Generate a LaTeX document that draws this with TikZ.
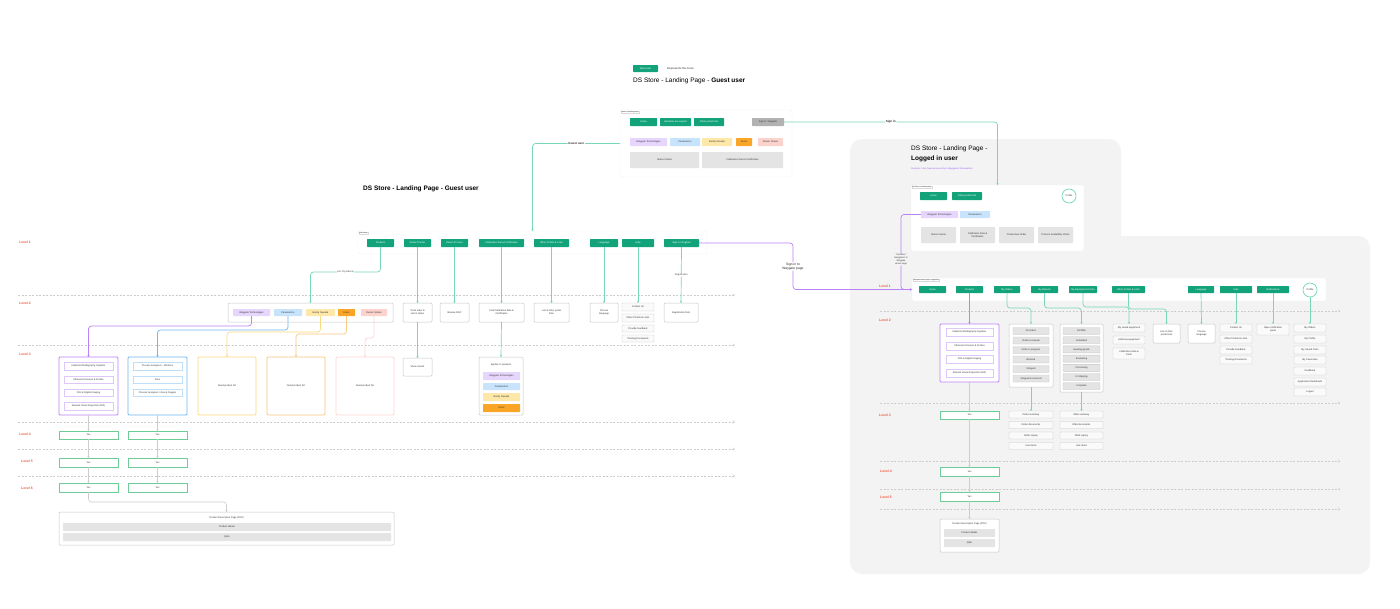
\documentclass[tikz,border=0pt]{standalone}
\usepackage{fontspec}
\setmainfont{Liberation Sans}
\usetikzlibrary{arrows.meta}
\definecolor{grn}{RGB}{18,163,122}
\definecolor{tealln}{RGB}{120,214,186}
\definecolor{purln}{RGB}{186,130,245}
\definecolor{lavf}{RGB}{230,213,252}
\definecolor{lavb}{RGB}{222,200,250}
\definecolor{bluf}{RGB}{200,228,253}
\definecolor{bluln}{RGB}{110,185,245}
\definecolor{blub}{RGB}{190,222,250}
\definecolor{yelf}{RGB}{253,232,170}
\definecolor{yelln}{RGB}{252,218,130}
\definecolor{orgf}{RGB}{249,166,40}
\definecolor{orgln}{RGB}{249,200,130}
\definecolor{pnkf}{RGB}{252,210,205}
\definecolor{pnkln}{RGB}{251,215,210}
\definecolor{bxln}{RGB}{200,200,200}
\definecolor{gryf}{RGB}{228,228,228}
\definecolor{lvlc}{RGB}{240,90,60}
\definecolor{yesln}{RGB}{110,205,150}
\definecolor{bgc}{RGB}{243,243,243}
\definecolor{connc}{RGB}{205,205,205}
\definecolor{dashc}{RGB}{205,205,205}
\definecolor{signg}{RGB}{178,178,178}
\definecolor{scen}{RGB}{150,90,240}
\newcommand\mybx[7]{\node[#2,minimum width={(#5)-(#3)},minimum height={(#6)-(#4)}] (#1) at ({((#3)+(#5))/2},{((#4)+(#6))/2}) {#7};}
\tikzset{
 base/.style={inner sep=0pt, outer sep=0pt, align=center, font=\fontsize{2.4}{2.9}\selectfont, text=black!80},
 gbtn/.style={base, fill=grn, text=white, rounded corners=0.6pt},
 sgray/.style={base, fill=signg, text=black!80, rounded corners=0.6pt},
 wbox/.style={base, draw=bxln, line width=0.5pt, fill=white, rounded corners=1pt},
 gfill/.style={base, fill=gryf, rounded corners=0.6pt},
 gitem/.style={base, fill=gryf, draw=bxln, line width=0.4pt, rounded corners=0.6pt},
 witem/.style={base, draw=bxln, line width=0.4pt, fill=black!2, rounded corners=0.6pt},
 lav/.style={base, fill=lavf, rounded corners=0.6pt},
 blu/.style={base, fill=bluf, rounded corners=0.6pt},
 yel/.style={base, fill=yelf, rounded corners=0.6pt},
 org/.style={base, fill=orgf, rounded corners=0.6pt},
 pnk/.style={base, fill=pnkf, rounded corners=0.6pt},
 lavitem/.style={base, draw=lavb, line width=0.5pt, fill=white},
 bluitem/.style={base, draw=blub, line width=0.5pt, fill=white},
 purbox/.style={base, draw=purln, line width=0.8pt, fill=white, rounded corners=1pt},
 blubox/.style={base, draw=bluln, line width=0.8pt, fill=white, rounded corners=1pt},
 yelbox/.style={base, draw=yelln, line width=0.8pt, fill=white, rounded corners=1pt},
 orgbox/.style={base, draw=orgln, line width=0.8pt, fill=white, rounded corners=1pt},
 pnkbox/.style={base, draw=pnkln, line width=0.8pt, fill=white, rounded corners=1pt},
 frame/.style={base, fill=white, draw=black!5, line width=0.4pt, rounded corners=1.5pt},
 flabel/.style={font=\fontsize{1.8}{2}\selectfont, text=black!60, draw=black!15, line width=0.2pt, fill=white, inner sep=0.4pt, anchor=north west},
 yes/.style={base, draw=yesln, line width=0.8pt, fill=white},
 prof/.style={base, circle, draw=tealln, line width=0.7pt, fill=white, minimum size=14pt},
 lvl/.style={font=\bfseries\fontsize{3.4}{4}\selectfont, text=lvlc, anchor=west, inner sep=0pt},
 lbl/.style={fill=white, inner sep=0.8pt, font=\bfseries\fontsize{3}{3.6}\selectfont, text=black!80, align=center},
 slbl/.style={fill=white, inner sep=0.6pt, font=\fontsize{2.4}{2.9}\selectfont, text=black!75, align=center},
 tl/.style={draw=tealln, line width=0.7pt, rounded corners=3pt, -{Stealth[length=2pt,width=2.2pt]}},
 pl/.style={draw=purln, line width=0.7pt, rounded corners=3pt, -{Stealth[length=2pt,width=2.2pt]}},
 bll/.style={draw=bluln, line width=0.7pt, rounded corners=3pt, -{Stealth[length=2pt,width=2.2pt]}},
 yll/.style={draw=yelln, line width=0.7pt, rounded corners=3pt, -{Stealth[length=2pt,width=2.2pt]}},
 orl/.style={draw=orgln, line width=0.7pt, rounded corners=3pt, -{Stealth[length=2pt,width=2.2pt]}},
 pkl/.style={draw=pnkln, line width=0.7pt, rounded corners=3pt, -{Stealth[length=2pt,width=2.2pt]}},
 gl/.style={draw=connc, line width=0.6pt, rounded corners=3pt, -{Stealth[length=2pt,width=2.2pt]}},
 dl/.style={draw=dashc, line width=0.5pt, dash pattern=on 2pt off 1.5pt, -{Straight Barb[length=1.5pt,width=2.6pt]}}
}
\begin{document}
\begin{tikzpicture}[x=1pt,y=-1pt]
\useasboundingbox[fill=white] (0,0) rectangle (1400,608);

% ---------- right grey area
\fill[bgc, rounded corners=12pt] (850,139) rectangle (1121,300);
\fill[bgc, rounded corners=12pt] (850,236) rectangle (1370,574);

% ---------- dashed level lines
\foreach \yy in {295,345,422,449,476} \draw[dl] (18,\yy) -- (735,\yy);
\foreach \yy in {311,403,461,489,509} \draw[dl] (880,\yy) -- (1340,\yy);

% ---------- legend and titles
\mybx{leg}{gbtn}{633}{65}{658}{72}{Menu item}
\node[anchor=west, inner sep=0pt, font=\fontsize{2.8}{3}\selectfont, text=black!80] (legt) at (667,68.5) {Represents the menu};
\node[anchor=west, inner sep=0pt, font=\fontsize{6.5}{7}\selectfont] (t1) at (633,80.5) {DS Store - Landing Page - \textbf{Guest user}};
\node[anchor=west, inner sep=0pt, font=\bfseries\fontsize{6.5}{7}\selectfont] (t2) at (363,189) {DS Store - Landing Page - Guest user};

% ---------- top frame (guest landing)
\mybx{tf}{frame}{620}{110}{792}{177}{}
\node[flabel] (tfl) at (620.5,110.5) {Home - Landing page};
\mybx{th}{gbtn}{630}{118}{657}{126}{Home}
\mybx{tind}{gbtn}{660}{118}{691}{126}{Industries we support}
\mybx{top}{gbtn}{694}{118}{724}{126}{Other portals link}
\mybx{tsign}{sgray}{752}{118}{784}{126}{Sign in / Register}
\mybx{twt}{lav}{630}{138}{667}{146}{Waygate Technologies}
\mybx{tpa}{blu}{670}{138}{700}{146}{Panametrics}
\mybx{tbn}{yel}{702}{138}{732}{146}{Bently Nevada}
\mybx{tdr}{org}{736}{138}{752}{146}{Druck}
\mybx{trs}{pnk}{758}{138}{783}{146}{Reuter Stokes}
\mybx{tst}{gfill}{630}{152}{699}{168}{Status tracker}
\mybx{tcal}{gfill}{702}{152}{783}{168}{Calibration Data \& Certificates}

% ---------- left level 1 frame
\mybx{mf}{frame}{358}{231}{707}{254}{}
\node[flabel] (mfl) at (358.5,231.5) {Main page};
\mybx{mprod}{gbtn}{367}{239}{394}{247}{Products}
\mybx{mstat}{gbtn}{404}{239}{431}{247}{Status Tracker}
\mybx{mret}{gbtn}{441}{239}{468}{247}{Return Process}
\mybx{mcal}{gbtn}{479}{239}{524}{247}{Calibration Data \& Certificates}
\mybx{moth}{gbtn}{534}{239}{569}{247}{Other Portals \& Links}
\mybx{mlang}{gbtn}{590}{239}{618}{247}{Language}
\mybx{mhelp}{gbtn}{622}{239}{654}{247}{Help}
\mybx{msign}{gbtn}{664}{239}{699}{247}{Sign in / Register}

% ---------- left level labels
\node[lvl] (l1) at (19,242) {Level 1};
\node[lvl] (l2) at (19,303) {Level 2};
\node[lvl] (l3) at (19,354) {Level 3};
\node[lvl] (l4) at (19,434) {Level 4};
\node[lvl] (l5) at (21,461) {Level 5};
\node[lvl] (l6) at (21,488) {Level 6};

% ---------- left level 2
\mybx{pf}{wbox}{228}{303}{393}{322}{}
\mybx{pwt}{lav}{233}{309}{270}{316}{Waygate Technologies}
\mybx{ppa}{blu}{274}{309}{302}{316}{Panametrics}
\mybx{pbn}{yel}{306}{309}{335}{316}{Bently Nevada}
\mybx{pdr}{org}{338}{309}{355}{316}{Druck}
\mybx{prs}{pnk}{361}{309}{387}{316}{Reuter Stokes}
\mybx{ltrack}{wbox}{403}{303}{432}{322}{Track order \&\\return status}
\mybx{lrgp}{wbox}{440}{303}{469}{322}{Browse RGP}
\mybx{lfind}{wbox}{479}{303}{524}{322}{Find Calibration data \&\\Certificates}
\mybx{lport}{wbox}{534}{303}{569}{322}{List of other portal\\links}
\mybx{llang}{wbox}{590}{303}{618}{322}{Choose\\language}
\mybx{lh1}{witem}{622}{303}{654}{311}{Contact Us}
\mybx{lh2}{witem}{622}{314}{654}{322}{Other Portals \& Links}
\mybx{lh3}{witem}{622}{325}{654}{332}{Provide Feedback}
\mybx{lh4}{witem}{622}{335}{654}{342}{Training Documents}
\mybx{lreg}{wbox}{664}{303}{698}{322}{Registration form}

% ---------- left level 3
\mybx{cwt}{purbox}{59}{357}{118}{415}{}
\mybx{cwt1}{lavitem}{64}{362}{113}{370}{Industrial Radiography Systems}
\mybx{cwt2}{lavitem}{64}{376}{113}{383}{Ultrasonic Devices \& Probes}
\mybx{cwt3}{lavitem}{64}{389}{113}{396}{Film \& Digital Imaging}
\mybx{cwt4}{lavitem}{64}{402}{113}{410}{Remote Visual Inspection (RVI)}
\mybx{cpa}{blubox}{128}{357}{187}{415}{}
\mybx{cpa1}{bluitem}{133}{362}{182}{370}{Process Analyzers - Moisture}
\mybx{cpa2}{bluitem}{133}{376}{182}{383}{Flow}
\mybx{cpa3}{bluitem}{133}{389}{182}{396}{Process Analyzers / Gas \& Oxygen}
\mybx{cbn}{yelbox}{198}{357}{256}{415}{Need product list}
\mybx{cdr}{orgbox}{267}{357}{325}{415}{Need product list}
\mybx{crs}{pnkbox}{336}{357}{394}{415}{Need product list}
\mybx{lshow}{wbox}{403}{358}{432}{376}{Show results}
\mybx{lapp}{wbox}{479}{357}{523}{415}{}
\node[base] (lappt) at (501,365) {Applies to products};
\mybx{la1}{lav}{483}{372}{520}{380}{Waygate Technologies}
\mybx{la2}{blu}{483}{383}{520}{390}{Panametrics}
\mybx{la3}{yel}{483}{393}{520}{401}{Bently Nevada}
\mybx{la4}{org}{483}{404}{520}{412}{Druck}

% ---------- left levels 4-6 and PDP
\mybx{y4a}{yes}{59}{431}{118}{439}{Yes}
\mybx{y4b}{yes}{128}{431}{187}{439}{Yes}
\mybx{y5a}{yes}{59}{458}{118}{467}{Yes}
\mybx{y5b}{yes}{128}{458}{187}{467}{Yes}
\mybx{y6a}{yes}{59}{483}{118}{492}{Yes}
\mybx{y6b}{yes}{128}{483}{187}{492}{Yes}
\mybx{pdp}{wbox}{59}{512}{394}{545}{}
\node[base] (pdpt) at (226.5,518) {Product Description Page (PDP)};
\mybx{pdp1}{gfill}{63}{523}{391}{531}{Product details}
\mybx{pdp2}{gfill}{63}{533}{391}{541}{Q\&A}

% ---------- right titles
\node[anchor=west, inner sep=0pt, font=\fontsize{6.5}{7}\selectfont] (t3) at (911,149) {DS Store - Landing Page -};
\node[anchor=west, inner sep=0pt, font=\bfseries\fontsize{6.5}{7}\selectfont] (t4) at (911,159) {Logged in user};
\node[anchor=west, inner sep=0pt, font=\fontsize{2.3}{2.8}\selectfont, text=scen] (t5) at (911,169) {Scenario: User have access only to Waygate \& Panametrics};

% ---------- right top frame
\mybx{rtf}{frame}{911}{185}{1084}{251}{}
\node[flabel] (rtfl) at (911.5,185.5) {DS Store - landing page};
\mybx{rh}{gbtn}{920}{192}{947}{200}{Home}
\mybx{rop}{gbtn}{952}{192}{982}{200}{Other portals link}
\node[prof] (rpf) at (1069,196) {Profile};
\mybx{rwt}{lav}{921}{211}{958}{218}{Waygate Technologies}
\mybx{rpa}{blu}{960}{211}{990}{218}{Panametrics}
\mybx{rst}{gfill}{921}{227}{956}{243}{Status tracker}
\mybx{rcal}{gfill}{960}{227}{995}{243}{Calibration Data \&\\Certificates}
\mybx{rnew}{gfill}{999}{227}{1034}{243}{Create New Order}
\mybx{rpac}{gfill}{1038}{227}{1073}{243}{Process Availability Check}

% ---------- right level 1 frame
\mybx{rf1}{frame}{912}{278}{1326}{301}{}
\node[flabel] (rf1l) at (912.5,278.5) {Waygate home page - Logged in};
\mybx{r1home}{gbtn}{919}{286}{946}{293}{Home}
\mybx{r1prod}{gbtn}{956}{286}{983}{293}{Products}
\mybx{r1ord}{gbtn}{994}{286}{1020}{293}{My Orders}
\mybx{r1ret}{gbtn}{1031}{286}{1058}{293}{My Returns}
\mybx{r1eq}{gbtn}{1069}{286}{1097}{293}{My Equipment \& Data}
\mybx{r1oth}{gbtn}{1112}{286}{1145}{293}{Other Portals \& Links}
\mybx{r1lang}{gbtn}{1188}{286}{1214}{293}{Language}
\mybx{r1help}{gbtn}{1220}{286}{1252}{293}{Help}
\mybx{r1not}{gbtn}{1257}{286}{1289}{293}{Notifications}
\node[prof] (rprof) at (1310,290) {Profile};

% ---------- right level labels
\node[lvl] (rl1) at (879,286) {Level 1};
\node[lvl] (rl2) at (879,320) {Level 2};
\node[lvl] (rl3) at (879,415) {Level 3};
\node[lvl] (rl4) at (880,471) {Level 4};
\node[lvl] (rl5) at (880,497) {Level 5};

% ---------- right level 2
\mybx{rp}{purbox}{940}{324}{999}{382}{}
\mybx{rp1}{lavitem}{946}{328}{993}{336}{Industrial Radiography Systems}
\mybx{rp2}{lavitem}{946}{342}{993}{350}{Ultrasonic Devices \& Probes}
\mybx{rp3}{lavitem}{946}{355}{993}{363}{Film \& Digital Imaging}
\mybx{rp4}{lavitem}{946}{369}{993}{377}{Remote Visual Inspection (RVI)}
\mybx{rord}{wbox}{1009}{324}{1053}{387}{}
\mybx{ro1}{gitem}{1013}{327.5}{1049}{334.5}{All orders}
\mybx{ro2}{gitem}{1013}{337}{1049}{344}{Orders received}
\mybx{ro3}{gitem}{1013}{346.5}{1049}{353.5}{Order in progress}
\mybx{ro4}{gitem}{1013}{356}{1049}{363}{Blocked}
\mybx{ro5}{gitem}{1013}{365.5}{1049}{372.5}{Shipped}
\mybx{ro6}{gitem}{1013}{375}{1049}{382}{Shipped \& Invoiced}
\mybx{rret}{wbox}{1060}{324}{1103}{392}{}
\mybx{rr1}{gitem}{1063}{327.5}{1100}{334.5}{All RMA}
\mybx{rr2}{gitem}{1063}{336.7}{1100}{343.7}{Submitted}
\mybx{rr3}{gitem}{1063}{345.9}{1100}{352.9}{Awaiting goods}
\mybx{rr4}{gitem}{1063}{355.1}{1100}{362.1}{Evaluating}
\mybx{rr5}{gitem}{1063}{364.3}{1100}{371.3}{Processing}
\mybx{rr6}{gitem}{1063}{373.5}{1100}{380.5}{In Shipping}
\mybx{rr7}{gitem}{1063}{382.7}{1100}{389.7}{Complete}
\mybx{req1}{witem}{1113}{324}{1145}{332}{My saved equipment}
\mybx{req2}{witem}{1113}{336}{1145}{344}{Add new equipment}
\mybx{req3}{witem}{1113}{348}{1145}{359}{Calibration Data \&\\Certs}
\mybx{rport}{wbox}{1153}{324}{1180}{343}{List of other\\portal links}
\mybx{rlang}{wbox}{1188}{324}{1215}{343}{Choose\\language}
\mybx{rh1}{witem}{1220}{324}{1252}{332}{Contact Us}
\mybx{rh2}{witem}{1220}{335}{1252}{343}{Other Portals \& Links}
\mybx{rh3}{witem}{1220}{346}{1252}{354}{Provide Feedback}
\mybx{rh4}{witem}{1220}{356}{1252}{364}{Training Documents}
\mybx{rnot}{witem}{1257}{324}{1289}{335}{Open notification\\panel}
\mybx{rpr1}{witem}{1294}{324}{1326}{332}{My Orders}
\mybx{rpr2}{witem}{1294}{335}{1326}{343}{My Profile}
\mybx{rpr3}{witem}{1294}{346}{1326}{354}{My Saved Carts}
\mybx{rpr4}{witem}{1294}{356}{1326}{364}{My Favourites}
\mybx{rpr5}{witem}{1294}{367}{1326}{375}{Feedback}
\mybx{rpr6}{witem}{1294}{378}{1326}{386}{Application Dashboard}
\mybx{rpr7}{witem}{1294}{388}{1326}{396}{Logout}

% ---------- right level 3-5
\mybx{ry3}{yes}{940}{411}{999}{419}{Yes}
\mybx{rod1}{witem}{1009}{411}{1053}{418}{Order summary}
\mybx{rod2}{witem}{1009}{421.5}{1053}{428.5}{Order documents}
\mybx{rod3}{witem}{1009}{432}{1053}{439}{Order inquiry}
\mybx{rod4}{witem}{1009}{442.5}{1053}{449.5}{Line items}
\mybx{rrd1}{witem}{1060}{411}{1103}{418}{RMA summary}
\mybx{rrd2}{witem}{1060}{421.5}{1103}{428.5}{RMA documents}
\mybx{rrd3}{witem}{1060}{432}{1103}{439}{RMA inquiry}
\mybx{rrd4}{witem}{1060}{442.5}{1103}{449.5}{Line items}
\mybx{ry4}{yes}{940}{467}{999}{476}{Yes}
\mybx{ry5}{yes}{940}{492}{999}{501}{Yes}
\mybx{rpdp}{wbox}{940}{519}{999}{552}{}
\node[base] (rpdpt) at (969.5,524) {Product Description Page (PDP)};
\mybx{rpdp1}{gfill}{944}{529}{995}{537}{Product details}
\mybx{rpdp2}{gfill}{944}{539}{995}{547}{Q\&A}

% ---------- connectors: top
\draw[tl] (tf.west) -| node[pos=0.25, lbl] {Guest user} (mf.north);
\draw[tl] (tsign.east) -| node[pos=0.25, lbl] {Sign in} (rtf.north);

% ---------- connectors: left level 1 -> 2
\draw[tl] (mprod.south) -- ++(0,25) -| node[pos=0.25, slbl] {List of products} (pf.north);
\draw[tl] (mstat.south) -- (ltrack.north);
\draw[tl] (mret.south) -- (lrgp.north);
\draw[tl] (mcal.south) -- (lfind.north);
\draw[tl] (moth.south) -- (lport.north);
\draw[tl] (mlang.south) -- (llang.north);
\draw[tl] (mhelp.south) -- (lh1.north);
\draw[tl] (msign.south) -- node[slbl] {Registration} (lreg.north);
\draw[pl] (msign.east) -- ++(94,0) |- node[pos=0.25, fill=white, inner sep=0.8pt, font=\fontsize{3.3}{4.2}\selectfont, align=center, text=black!85] {Sign in to\\Waygate page} (rf1.west);

% ---------- connectors: left level 2 -> 3
\draw[pl] (pwt.south) -- ++(0,10) -| (cwt.north);
\draw[bll] (ppa.south) -- ++(0,14) -| (cpa.north);
\draw[yll] (pbn.south) -- ++(0,16) -| (cbn.north);
\draw[orl] (pdr.south) -- ++(0,18) -| (cdr.north);
\draw[pkl] (prs.south) -- ++(0,22) -| (crs.north);
\draw[tl] (ltrack.south) -- (lshow.north);
\draw[tl] (lfind.south) -- (lapp.north);

% ---------- connectors: left lower levels
\draw[gl] (cwt.south) -- (y4a.north);
\draw[gl] (cpa.south) -- (y4b.north);
\draw[gl] (y4a.south) -- (y5a.north);
\draw[gl] (y4b.south) -- (y5b.north);
\draw[gl] (y5a.south) -- (y6a.north);
\draw[gl] (y5b.south) -- (y6b.north);
\draw[gl] (y6a.south) -- ++(0,10) -| (pdp.north);

% ---------- connectors: right
\draw[pl] (rwt.west) -- ++(-20,0) |- node[pos=0.3, fill=bgc, inner sep=0.6pt, font=\fontsize{2.3}{2.9}\selectfont, align=center, text=black!75] {"Sandbox"\\Navigation to\\Waygate\\Home page} (rf1.west);
\draw[pl] (r1prod.south) -- (rp.north);
\draw[tl] (r1ord.south) -- ++(0,15) -| (rord.north);
\draw[tl] (r1ret.south) -- ++(0,15) -| (rret.north);
\draw[tl] (r1eq.south) -- ++(0,14) -| (req1.north);
\draw[tl] (r1oth.south) -- ++(0,16) -| (rport.north);
\draw[tl] (r1lang.south) -- (rlang.north);
\draw[tl] (r1help.south) -- (rh1.north);
\draw[tl] (r1not.south) -- (rnot.north);
\draw[tl] (rprof.south) -- (rpr1.north);
\draw[gl] (rp.south) -- (ry3.north);
\draw[tl] (rord.south) -- (rod1.north);
\draw[tl] (rret.south) -- (rrd1.north);
\draw[gl] (ry3.south) -- (ry4.north);
\draw[gl] (ry4.south) -- (ry5.north);
\draw[gl] (ry5.south) -- (rpdp.north);
\end{tikzpicture}
\end{document}
